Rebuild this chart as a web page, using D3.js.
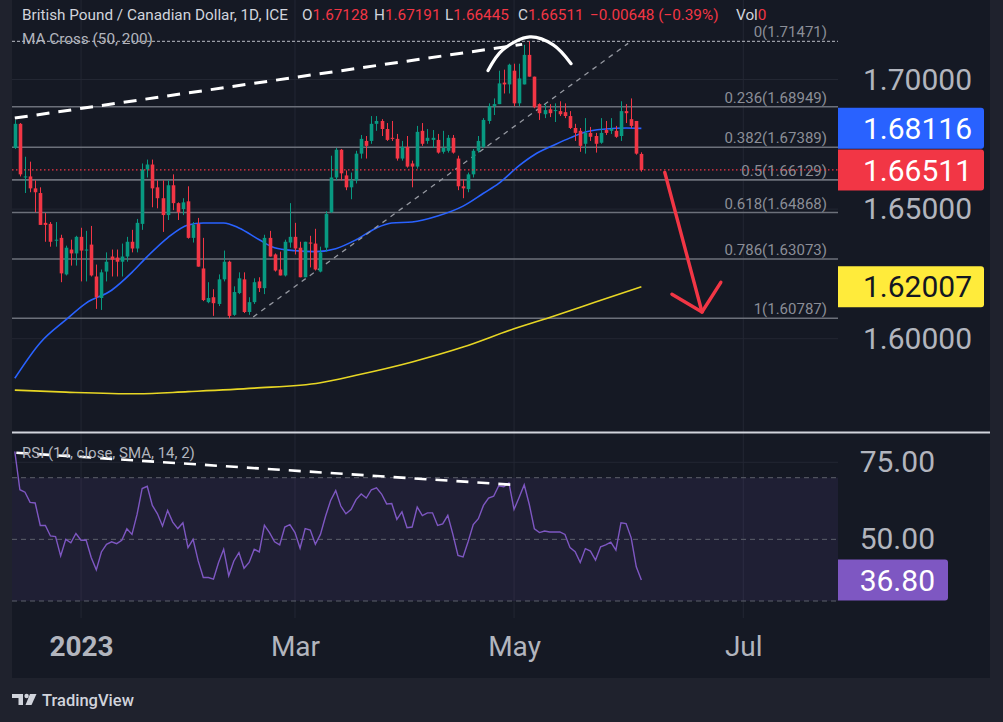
<!DOCTYPE html>
<html>
<head>
<meta charset="utf-8">
<script src="https://d3js.org/d3.v7.min.js"></script>
<style>
  html, body { margin: 0; padding: 0; background: #1f222d; overflow: hidden; }
  svg { display: block; }
</style>
</head>
<body>
<div id="chart"></div>
<script>
/* GBP/CAD daily candles, MA cross, fib retracement and RSI pane */
(function () {
  'use strict';

  // ---- data ----
  const START_DATE = '2022-12-14';
  const TICK_DATES = ['2023-01-02', '2023-03-01', '2023-05-01', '2023-07-03'];
  const TICK_LABELS = ['2023', 'Mar', 'May', 'Jul'];

  const OPEN = [
    1.6736, 1.6829, 1.6622, 1.6626, 1.6580, 1.6562, 1.6447, 1.6443, 1.6378, 1.6389,
    1.6248, 1.6344, 1.6329, 1.6393, 1.6340, 1.6363, 1.6240, 1.6157, 1.6259, 1.6317,
    1.6313, 1.6297, 1.6317, 1.6374, 1.6348, 1.6443, 1.6653, 1.6672, 1.6584, 1.6542,
    1.6477, 1.6592, 1.6523, 1.6500, 1.6530, 1.6389, 1.6443, 1.6271, 1.6141, 1.6160,
    1.6134, 1.6229, 1.6297, 1.6092, 1.6176, 1.6229, 1.6103, 1.6141, 1.6221, 1.6195,
    1.6389, 1.6325, 1.6267, 1.6244, 1.6371, 1.6393, 1.6351, 1.6237, 1.6371, 1.6367,
    1.6259, 1.6351, 1.6488, 1.6622, 1.6729, 1.6630, 1.6584, 1.6611, 1.6714, 1.6763,
    1.6763, 1.6829, 1.6840, 1.6809, 1.6775, 1.6771, 1.6695, 1.6740, 1.6676, 1.6664,
    1.6802, 1.6763, 1.6767, 1.6767, 1.6721, 1.6725, 1.6775, 1.6695, 1.6588, 1.6577,
    1.6634, 1.6725, 1.6740, 1.6840, 1.6897, 1.6905, 1.6988, 1.6981, 1.7034, 1.6908,
    1.6981, 1.7095, 1.7011, 1.6905, 1.6866, 1.6885, 1.6878, 1.6878, 1.6874, 1.6859,
    1.6813, 1.6802, 1.6752, 1.6794, 1.6782, 1.6756, 1.6805, 1.6802, 1.6802, 1.6782,
    1.6878, 1.6847, 1.6840, 1.67128
  ];
  const HIGH = [
    1.6844, 1.6832, 1.6702, 1.6683, 1.6611, 1.6584, 1.6485, 1.6450, 1.6450, 1.6401,
    1.6359, 1.6382, 1.6397, 1.6428, 1.6416, 1.6435, 1.6286, 1.6267, 1.6333, 1.6344,
    1.6344, 1.6367, 1.6393, 1.6420, 1.6462, 1.6676, 1.6691, 1.6691, 1.6611, 1.6611,
    1.6611, 1.6634, 1.6526, 1.6542, 1.6588, 1.6450, 1.6466, 1.6389, 1.6218, 1.6191,
    1.6248, 1.6340, 1.6301, 1.6202, 1.6256, 1.6256, 1.6160, 1.6233, 1.6237, 1.6401,
    1.6416, 1.6329, 1.6336, 1.6382, 1.6523, 1.6447, 1.6374, 1.6374, 1.6397, 1.6424,
    1.6355, 1.6492, 1.6706, 1.6736, 1.6732, 1.6649, 1.6641, 1.6725, 1.6786, 1.6782,
    1.6859, 1.6859, 1.6847, 1.6832, 1.6840, 1.6790, 1.6763, 1.6782, 1.6687, 1.6821,
    1.6832, 1.6809, 1.6805, 1.6790, 1.6802, 1.6786, 1.6786, 1.6706, 1.6615, 1.6641,
    1.6732, 1.6782, 1.6851, 1.6908, 1.6927, 1.7034, 1.7038, 1.7061, 1.7061, 1.7061,
    1.7134, 1.71471, 1.7011, 1.6908, 1.6905, 1.6905, 1.6908, 1.6916, 1.6908, 1.6878,
    1.6829, 1.6813, 1.6851, 1.6817, 1.6794, 1.6851, 1.6840, 1.6851, 1.6821, 1.6916,
    1.6905, 1.6927, 1.6840, 1.67191
  ];
  const LOW = [
    1.6732, 1.6626, 1.6562, 1.6565, 1.6488, 1.6439, 1.6374, 1.6355, 1.6355, 1.6218,
    1.6244, 1.6282, 1.6282, 1.6221, 1.6221, 1.6240, 1.6115, 1.6111, 1.6221, 1.6240,
    1.6240, 1.6240, 1.6297, 1.6333, 1.6333, 1.6420, 1.6622, 1.6507, 1.6503, 1.6412,
    1.6458, 1.6496, 1.6458, 1.6477, 1.6386, 1.6371, 1.6278, 1.6145, 1.6137, 1.6088,
    1.6126, 1.6221, 1.60787, 1.6088, 1.6172, 1.6099, 1.6092, 1.6134, 1.6180, 1.6172,
    1.6317, 1.6259, 1.6244, 1.6240, 1.6351, 1.6325, 1.6237, 1.6237, 1.6275, 1.6263,
    1.6256, 1.6336, 1.6485, 1.6611, 1.6611, 1.6573, 1.6538, 1.6599, 1.6695, 1.6695,
    1.6752, 1.6802, 1.6782, 1.6763, 1.6763, 1.6687, 1.6687, 1.6660, 1.6584, 1.6656,
    1.6744, 1.6752, 1.6736, 1.6714, 1.6714, 1.6718, 1.6714, 1.6573, 1.6542, 1.6565,
    1.6622, 1.6718, 1.6736, 1.6829, 1.6863, 1.6905, 1.6946, 1.6946, 1.6897, 1.6897,
    1.6981, 1.7011, 1.6889, 1.6844, 1.6851, 1.6855, 1.6836, 1.6859, 1.6851, 1.6809,
    1.6763, 1.6721, 1.6714, 1.6763, 1.6718, 1.6752, 1.6786, 1.6790, 1.6775, 1.6763,
    1.6832, 1.6813, 1.6710, 1.66445
  ];
  const CLOSE = [
    1.6829, 1.6634, 1.6626, 1.6580, 1.6565, 1.6439, 1.6439, 1.6374, 1.6382, 1.6252,
    1.6351, 1.6329, 1.6393, 1.6340, 1.6344, 1.6244, 1.6160, 1.6256, 1.6297, 1.6305,
    1.6297, 1.6317, 1.6374, 1.6348, 1.6447, 1.6653, 1.6672, 1.6580, 1.6542, 1.6477,
    1.6592, 1.6523, 1.6488, 1.6526, 1.6389, 1.6439, 1.6278, 1.6149, 1.6157, 1.6137,
    1.6229, 1.6297, 1.6088, 1.6180, 1.6233, 1.6103, 1.6141, 1.6218, 1.6195, 1.6389,
    1.6317, 1.6263, 1.6244, 1.6374, 1.6393, 1.6348, 1.6237, 1.6374, 1.6367, 1.6267,
    1.6333, 1.6481, 1.6622, 1.6729, 1.6638, 1.6584, 1.6611, 1.6714, 1.6771, 1.6744,
    1.6829, 1.6840, 1.6809, 1.6767, 1.6771, 1.6695, 1.6740, 1.6664, 1.6664, 1.6798,
    1.6752, 1.6775, 1.6775, 1.6718, 1.6736, 1.6775, 1.6718, 1.6588, 1.6580, 1.6634,
    1.6725, 1.6763, 1.6844, 1.6897, 1.6905, 1.6985, 1.6981, 1.7057, 1.6908, 1.7004,
    1.7095, 1.7011, 1.6893, 1.6870, 1.6882, 1.6870, 1.6882, 1.6866, 1.6859, 1.6813,
    1.6794, 1.6744, 1.6794, 1.6779, 1.6752, 1.6794, 1.6794, 1.6809, 1.6779, 1.6878,
    1.6870, 1.6821, 1.6714, 1.66511
  ];
  const RSI = [
    78.5, 66.1, 65.3, 62, 61.8, 54.5, 54.5, 51.1, 50.9, 44.6,
    50, 48.9, 51.9, 49.7, 49.8, 44.1, 40.1, 45.9, 48.4, 49.2,
    48.6, 49.7, 53.4, 51.6, 58.1, 66.5, 67.2, 61, 58.3, 54.3,
    59.4, 55.6, 53.5, 55.4, 47.3, 50, 43, 37.6, 37.6, 37.1,
    42.5, 46.8, 38.2, 43, 45.7, 40.6, 42.5, 46.8, 45.9, 54.6,
    52.2, 49.2, 48.2, 54, 54.8, 52.2, 47.1, 53.5, 53, 48.4,
    51.6, 57.5, 62.6, 65.8, 60.8, 58.3, 59.7, 62.9, 64.7, 63.4,
    66.1, 66.7, 64.7, 61.5, 61.6, 56.5, 58.9, 53.8, 54, 60.5,
    57.7, 58.6, 58.6, 54.5, 55, 57.8, 51.6, 44.8, 44.3, 49.3,
    54.8, 56.7, 61, 63.4, 64, 67.4, 67.1, 68.3, 59.7, 63.6,
    67.7, 61.3, 53.4, 52.2, 52.7, 52.4, 52.4, 52.4, 51.6, 47.3,
    46, 42.5, 47, 46.2, 43.3, 47.6, 48.2, 49.1, 46.5, 55.4,
    55.1, 50.5, 41.1, 36.8
  ];

  // moving averages sampled at bar indices
  const MA50_IDX = [0, 5, 10, 14, 19, 23, 26, 30, 34, 37, 41, 44, 48, 51, 55, 59, 63, 67, 71, 74, 78, 83, 88, 92, 95, 99, 102, 106, 109, 112, 116, 120, 123];
  const MA50_VAL = [1.58473, 1.59847, 1.60725, 1.61374, 1.61870, 1.62557, 1.63168, 1.63893, 1.64389, 1.64466, 1.64466, 1.64275, 1.63817, 1.63511, 1.63397, 1.63359, 1.63473, 1.63817, 1.64275, 1.64466, 1.64504, 1.64733, 1.65115, 1.65611, 1.65992, 1.66679, 1.67099, 1.67481, 1.67748, 1.67977, 1.68092, 1.68130, 1.68116];
  const MA200_IDX = [0, 10, 24, 34, 47, 60, 67, 78, 88, 98, 105, 114, 123];
  const MA200_VAL = [1.58015, 1.57939, 1.57874, 1.57958, 1.58092, 1.58302, 1.58588, 1.59103, 1.59676, 1.60382, 1.60821, 1.61412, 1.62007];

  const FIB_RATIOS = ['0', '0.236', '0.382', '0.5', '0.618', '0.786', '1'];
  const FIB_PRICES = [1.71471, 1.68949, 1.67389, 1.66129, 1.64868, 1.63073, 1.60787];

  const PRICE_TICKS = [1.60, 1.65, 1.70];
  const RSI_TICKS = [50, 75];
  const RSI_BANDS = [70, 50, 30];

  // hand-drawn annotations, [bar index, value]
  const TREND_TOP = [[0, 1.68511], [99.6, 1.71355]];
  const TOP_ARC = [[92.9, 1.70344], [95.8, 1.71145], [101.1, 1.71641], [105.7, 1.71336], [109.2, 1.70611]];
  const TREND_SUPPORT = [[46.8, 1.60840], [120.4, 1.71393]];
  const ARROW_SHAFT = [[127.6, 1.66412], [134.9, 1.61031]];
  const ARROW_HEAD = [[129.0, 1.61718], [134.9, 1.61031], [138.6, 1.62176]];
  const RSI_TREND = [[0.3, 78.1], [97.8, 67.7]];

  const HEADER = { symbol: 'British Pound / Canadian Dollar, 1D, ICE', o: '1.67128', h: '1.67191', l: '1.66445', c: '1.66511', chg: '\u22120.00648 (\u22120.39%)' };

  // ---- layout ----
  const W = 1003, H = 722;
  const L = 12, R = 990, PR = 838, BOTTOM = 678;
  const MAIN_B = 432, RSI_T = 433, RSI_B = 618;
  const FONT = 'Roboto, "Noto Sans", sans-serif';
  const UP = '#089981', DOWN = '#f23645', AXIS_TXT = '#b2b5be', GRID = '#232733';

  function tradingDays(start, n) {
    const out = [];
    const d = new Date(start + 'T00:00:00');
    while (out.length < n) {
      const wd = d.getDay();
      if (wd !== 0 && wd !== 6) out.push(d3.timeFormat('%Y-%m-%d')(d));
      d.setDate(d.getDate() + 1);
    }
    return out;
  }
  const DATES = tradingDays(START_DATE, 170);
  const tickIdx = TICK_DATES.map((t) => DATES.indexOf(t));

  const svg = d3.select('#chart').append('svg').attr('width', W).attr('height', H);
  svg.append('rect').attr('width', W).attr('height', H).attr('fill', '#1f222d');
  svg.append('rect').attr('x', L).attr('y', 0).attr('width', R - L).attr('height', BOTTOM).attr('fill', '#151924');

  const defs = svg.append('defs');
  defs.append('clipPath').attr('id', 'clipMain').append('rect')
    .attr('x', L).attr('y', 0).attr('width', PR - L).attr('height', MAIN_B);
  defs.append('clipPath').attr('id', 'clipRsi').append('rect')
    .attr('x', L).attr('y', RSI_T).attr('width', PR - L).attr('height', RSI_B - RSI_T);

  const x = d3.scaleLinear().domain([-0.55, 161.6]).range([L, PR]);
  const y = d3.scaleLinear().domain([1.60, 1.70]).range([338.7, 79.5]);
  const yr = d3.scaleLinear().domain([30, 70]).range([601, 477.7]);

  // ---- grid ----
  const grid = svg.append('g');
  tickIdx.forEach((i) => {
    grid.append('line').attr('x1', x(i)).attr('x2', x(i)).attr('y1', 0).attr('y2', RSI_B)
      .attr('stroke', GRID).attr('stroke-width', 1);
  });
  PRICE_TICKS.forEach((p) => {
    grid.append('line').attr('x1', L).attr('x2', PR).attr('y1', y(p)).attr('y2', y(p))
      .attr('stroke', GRID).attr('stroke-width', 1);
  });
  grid.append('line').attr('x1', L).attr('x2', PR).attr('y1', yr(75)).attr('y2', yr(75))
    .attr('stroke', GRID).attr('stroke-width', 1);

  // ---- main pane ----
  const main = svg.append('g').attr('clip-path', 'url(#clipMain)');

  // fib levels
  FIB_PRICES.forEach((p, k) => {
    main.append('line').attr('x1', L).attr('x2', PR).attr('y1', y(p)).attr('y2', y(p))
      .attr('stroke', k === 0 ? '#9a9da6' : '#6c707a')
      .attr('stroke-width', k === 0 ? 1.2 : 1.6)
      .attr('stroke-dasharray', k === 0 ? '3,2' : null);
    main.append('text').attr('x', 827).attr('y', y(p) - 4)
      .attr('text-anchor', 'end')
      .style('font-family', FONT).style('font-size', '15px').style('fill', '#8b8e97')
      .text(`${FIB_RATIOS[k]}(${FIB_PRICES[k].toFixed(5)})`);
  });

  // moving averages
  const maLine = d3.line().x((d) => x(d[0])).y((d) => y(d[1])).curve(d3.curveMonotoneX);
  main.append('path').datum(MA200_IDX.map((i, k) => [i, MA200_VAL[k]])).attr('d', maLine)
    .attr('fill', 'none').attr('stroke', '#e7d624').attr('stroke-width', 1.6);
  main.append('path').datum(MA50_IDX.map((i, k) => [i, MA50_VAL[k]])).attr('d', maLine)
    .attr('fill', 'none').attr('stroke', '#2962ff').attr('stroke-width', 1.6);

  // grey support trend
  const annLine = d3.line().x((d) => x(d[0])).y((d) => y(d[1]));
  main.append('path').datum(TREND_SUPPORT).attr('d', annLine)
    .attr('fill', 'none').attr('stroke', '#9598a1').attr('stroke-width', 1.3).attr('stroke-dasharray', '5,5');

  // candles
  const bars = d3.range(CLOSE.length);
  const bw = 3.6;
  const cg = main.append('g');
  bars.forEach((i) => {
    const col = CLOSE[i] >= OPEN[i] ? UP : DOWN;
    const x0 = Math.round(x(i)) + 0.5;
    cg.append('line').attr('x1', x0).attr('x2', x0).attr('y1', y(HIGH[i])).attr('y2', y(LOW[i]))
      .attr('stroke', col).attr('stroke-width', 1);
    const top = y(Math.max(OPEN[i], CLOSE[i]));
    const hgt = Math.max(1, Math.abs(y(OPEN[i]) - y(CLOSE[i])));
    cg.append('rect').attr('x', x0 - bw / 2).attr('y', top).attr('width', bw).attr('height', hgt)
      .attr('fill', col);
  });

  // last price line
  const last = CLOSE[CLOSE.length - 1];
  main.append('line').attr('x1', L).attr('x2', PR).attr('y1', y(last)).attr('y2', y(last))
    .attr('stroke', DOWN).attr('stroke-width', 1.2).attr('stroke-dasharray', '1.5,2.5');

  // white drawings
  main.append('path').datum(TREND_TOP).attr('d', annLine)
    .attr('fill', 'none').attr('stroke', '#ffffff').attr('stroke-width', 3).attr('stroke-dasharray', '13,9');
  main.append('path').datum(TOP_ARC)
    .attr('d', d3.line().x((d) => x(d[0])).y((d) => y(d[1])).curve(d3.curveCatmullRom))
    .attr('fill', 'none').attr('stroke', '#ffffff').attr('stroke-width', 3.2).attr('stroke-linecap', 'round');

  // red arrow
  main.append('path').datum(ARROW_SHAFT).attr('d', annLine)
    .attr('fill', 'none').attr('stroke', DOWN).attr('stroke-width', 3.4).attr('stroke-linecap', 'round');
  main.append('path').datum(ARROW_HEAD).attr('d', annLine)
    .attr('fill', 'none').attr('stroke', DOWN).attr('stroke-width', 3.4)
    .attr('stroke-linecap', 'round').attr('stroke-linejoin', 'round');

  // legend text: one text per group, label and value as tspans
  const hdr = svg.append('g').style('font-family', FONT).style('font-size', '15.3px');
  function hText(tx, ty, parts) {
    const t = hdr.append('text').attr('x', tx).attr('y', ty);
    parts.forEach(([s, fill]) => t.append('tspan').style('fill', fill).text(s));
  }
  hText(22, 19.5, [[HEADER.symbol, '#d1d4dc']]);
  hText(302, 19.5, [['O', '#d1d4dc'], [HEADER.o, DOWN]]);
  hText(374, 19.5, [['H', '#d1d4dc'], [HEADER.h, DOWN]]);
  hText(445, 19.5, [['L', '#d1d4dc'], [HEADER.l, DOWN]]);
  hText(518, 19.5, [['C', '#d1d4dc'], [HEADER.c, DOWN]]);
  hText(590, 19.5, [[HEADER.chg, DOWN]]);
  hText(736, 19.5, [['Vol', '#d1d4dc'], ['0', DOWN]]);
  hText(22, 44, [['MA Cross (50, 200)', '#b2b5be']]);

  // price axis
  const pAxis = svg.append('g').attr('transform', `translate(${PR},0)`)
    .call(d3.axisRight(y).tickValues(PRICE_TICKS).tickSize(0).tickFormat(d3.format('.5f')));
  pAxis.select('.domain').remove();
  pAxis.selectAll('text').attr('x', 134).attr('text-anchor', 'end')
    .style('font-family', FONT).style('font-size', '30px').style('fill', AXIS_TXT);

  function priceBox(v, fill, txtFill, right, textRight, scale) {
    const cy = scale(v);
    const g = svg.append('g');
    g.append('path')
      .attr('d', `M${PR},${cy - 20.5} H${right - 3} Q${right},${cy - 20.5} ${right},${cy - 17.5} V${cy + 17.5} Q${right},${cy + 20.5} ${right - 3},${cy + 20.5} H${PR} Z`)
      .attr('fill', fill);
    g.append('text').attr('x', textRight).attr('y', cy).attr('dy', '0.36em').attr('text-anchor', 'end')
      .style('font-family', FONT).style('font-size', '30px').style('fill', txtFill)
      .text(scale === y ? v.toFixed(5) : v.toFixed(2));
  }
  priceBox(MA50_VAL[MA50_VAL.length - 1], '#2962ff', '#ffffff', 984, 972, y);
  priceBox(last, DOWN, '#ffffff', 984, 972, y);
  priceBox(MA200_VAL[MA200_VAL.length - 1], '#ffeb3b', '#131722', 984, 972, y);

  // ---- RSI pane ----
  const rsiG = svg.append('g').attr('clip-path', 'url(#clipRsi)');
  rsiG.append('rect').attr('x', L).attr('width', PR - L)
    .attr('y', yr(70)).attr('height', yr(30) - yr(70)).attr('fill', 'rgba(126,87,194,0.1)');
  RSI_BANDS.forEach((v) => {
    rsiG.append('line').attr('x1', L).attr('x2', PR).attr('y1', yr(v)).attr('y2', yr(v))
      .attr('stroke', '#5d606b').attr('stroke-width', 1).attr('stroke-dasharray', '5,4');
  });
  rsiG.append('path').datum(RSI).attr('d', d3.line().x((d, i) => x(i)).y((d) => yr(d)))
    .attr('fill', 'none').attr('stroke', '#7e57c2').attr('stroke-width', 1.4);
  rsiG.append('path').datum(RSI_TREND).attr('d', d3.line().x((d) => x(d[0])).y((d) => yr(d[1])))
    .attr('fill', 'none').attr('stroke', '#ffffff').attr('stroke-width', 2.6).attr('stroke-dasharray', '12,9');
  svg.append('text').attr('x', 22).attr('y', 458)
    .style('font-family', FONT).style('font-size', '15px').style('fill', '#b2b5be')
    .text('RSI (14, close, SMA, 14, 2)');

  const rAxis = svg.append('g').attr('transform', `translate(${PR},0)`)
    .call(d3.axisRight(yr).tickValues(RSI_TICKS).tickSize(0).tickFormat(d3.format('.2f')));
  rAxis.select('.domain').remove();
  rAxis.selectAll('text').attr('x', 97).attr('text-anchor', 'end')
    .style('font-family', FONT).style('font-size', '30px').style('fill', AXIS_TXT);
  priceBox(RSI[RSI.length - 1], '#7e57c2', '#ffffff', 948, 935, yr);

  // pane separator
  svg.append('line').attr('x1', L).attr('x2', R).attr('y1', MAIN_B + 0.5).attr('y2', MAIN_B + 0.5)
    .attr('stroke', '#d1d4dc').attr('stroke-width', 2);

  // ---- time axis ----
  const tAxis = svg.append('g').attr('transform', `translate(0,${RSI_B})`)
    .call(d3.axisBottom(x).tickValues(tickIdx).tickSize(0).tickPadding(18)
      .tickFormat((d, k) => TICK_LABELS[k]));
  tAxis.select('.domain').remove();
  tAxis.selectAll('text')
    .style('font-family', FONT).style('font-size', '28px').style('fill', AXIS_TXT)
    .style('font-weight', (d, k) => (k === 0 ? 700 : 400));

  // ---- TradingView footer ----
  const ft = svg.append('g').attr('fill', '#d1d4dc');
  ft.append('path').attr('d', 'M12,694 H23 V705 H18.5 V698 H12 Z');
  ft.append('circle').attr('cx', 26.6).attr('cy', 696).attr('r', 2.2);
  ft.append('path').attr('d', 'M30,694 H36.5 L31.5,705 H25.5 Z');
  ft.append('text').attr('x', 42).attr('y', 706)
    .style('font-family', FONT).style('font-size', '16.5px').style('font-weight', 500)
    .text('TradingView');
})();
</script>
</body>
</html>
